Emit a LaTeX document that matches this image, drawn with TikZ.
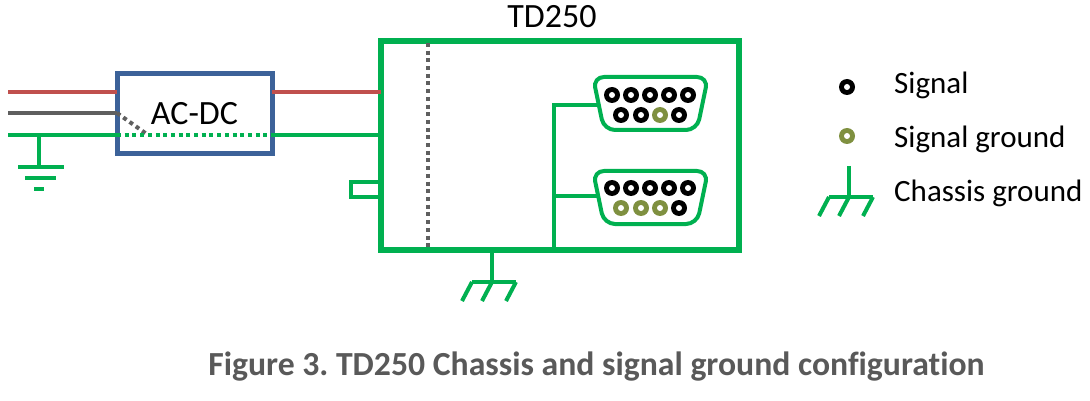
\documentclass[tikz,border=0pt]{standalone}
\usepackage{fontspec}
\setmainfont[Ligatures=NoCommon]{Carlito}
\usetikzlibrary{positioning}
\definecolor{wiregreen}{HTML}{00B050}
\definecolor{wirered}{HTML}{C0504D}
\definecolor{wiregray}{HTML}{5F5F5F}
\definecolor{boxblue}{HTML}{3C6299}
\definecolor{pinolive}{HTML}{7F9040}
\definecolor{captiongray}{HTML}{595959}
\tikzset{
  wire/.style={line width=4pt},
  dotwire/.style={line width=4pt,dash pattern=on 4pt off 3.7pt},
  label/.style={font=\fontsize{31}{31}\selectfont,inner sep=0pt,anchor=west},
  pinsig/.style={circle,fill=black,minimum size=16pt,inner sep=0pt,
    path picture={\fill[white] (path picture bounding box.center) circle (3pt);}},
  pingnd/.style={pinsig,fill=pinolive},
  pics/chassis/.style={code={
    \draw[wire,wiregreen] (-20,0) -- (24,0);
    \draw[wire,wiregreen] (-20,0) -- (-30,19);
    \draw[wire,wiregreen] (0,0) -- (-10,19);
    \draw[wire,wiregreen] (24,0) -- (14,19);
  }},
  pics/dsub/.style={code={
    \draw[wire,wiregreen,rounded corners=11pt] (0,0) -- (115,0) -- (104,53) -- (11,53) -- cycle;
  }}
}
\begin{document}
\begin{tikzpicture}[x=1pt,y=-1pt]
  \useasboundingbox (0,0) rectangle (1090,401);
  % boxes
  \node[draw=boxblue,fill=white,line width=5pt,minimum width=155pt,minimum height=80pt,inner sep=0pt,outer sep=0pt,font=\fontsize{34}{34}\selectfont] (acdc) at (194.5,114) {AC-DC};
  \node[draw=wiregreen,line width=5.2pt,minimum width=358pt,minimum height=209pt,inner sep=0pt,outer sep=0pt] (td) at (560,145.5) {};
  \node[font=\fontsize{34}{34}\selectfont,inner sep=0pt] (tdname) at (552,17) {TD250};
  \node[draw=wiregreen,line width=4pt,minimum width=29pt,minimum height=15pt,inner sep=0pt,outer sep=0pt] (tab) at (365.5,189.5) {};
  % mains side
  \coordinate (inred) at (8,92);
  \coordinate (ingray) at (8,113);
  \coordinate (ingreen) at (8,135);
  \coordinate (gray-end) at (148,135);
  \coordinate (earth) at (39,135);
  \coordinate (earth-a) at (39,167);
  \draw[wire,wirered] (inred) -- (inred -| acdc.west);
  \draw[wire,wiregray] (ingray) -- (ingray -| acdc.west);
  \draw[wire,wiregreen] (ingreen) -- (ingreen -| acdc.west);
  \draw[dotwire,wiregray] (ingray -| acdc.west) -- (gray-end);
  \draw[dotwire,wiregreen] (ingreen -| acdc.west) -- (ingreen -| acdc.east);
  \draw[wire,wirered] (inred -| acdc.east) -- (inred -| td.west);
  \draw[wire,wiregreen] (ingreen -| acdc.east) -- (ingreen -| td.west);
  \draw[wire,wiregreen] (earth) -- (earth-a);
  \draw[wire,wiregreen] (18,167) -- (64,167);
  \draw[wire,wiregreen] (25,178) -- (56,178);
  \draw[wire,wiregreen] (34,189) -- (44,189);
  % isolation line
  \draw[dotwire,wiregray] (428,43) -- (428,248);
  % connectors
  \pic at (593,77) {dsub};
  \pic at (593,171) {dsub};
  \coordinate (branch) at (553.5,250);
  \coordinate (dsuba) at (597,105);
  \coordinate (dsubb) at (597,196);
  \draw[wire,wiregreen] (branch) -- (branch |- dsuba) -- (dsuba);
  \draw[wire,wiregreen] (branch |- dsubb) -- (dsubb);
  \foreach \x [count=\i] in {612,631,650,669,688} {
    \node[pinsig] (a\i) at (\x,95) {};
    \node[pinsig] (c\i) at (\x,188) {};
  }
  \foreach \x/\s [count=\i] in {621/pinsig,641/pinsig,660/pingnd,679/pinsig} {
    \node[\s] (b\i) at (\x,115) {};
  }
  \foreach \x/\s [count=\i] in {621/pingnd,641/pingnd,660/pingnd,679/pinsig} {
    \node[\s] (d\i) at (\x,208) {};
  }
  % chassis ground
  \coordinate (gnd) at (492,282);
  \draw[wire,wiregreen] (gnd |- td.south) -- (gnd);
  \pic at (gnd) {chassis};
  % legend
  \node[pinsig] (keysig) at (847,87) {};
  \node[pingnd] (keygnd) at (847,136) {};
  \coordinate (keytop) at (849,166);
  \coordinate (keybar) at (849,197);
  \draw[wire,wiregreen] (keytop) -- (keybar);
  \pic at (keybar) {chassis};
  \node[label] (signal) at (894,85) {Signal};
  \node[label] (siggnd) at (894,139) {Signal ground};
  \node[label] (chgnd) at (894,193) {Chassis ground};
  % caption
  \node[font=\fontsize{33.7}{33.7}\selectfont\bfseries\frenchspacing,text=captiongray,inner sep=0pt] (caption) at (596.5,367) {Figure 3. TD250 Chassis and signal ground configuration};
\end{tikzpicture}
\end{document}
